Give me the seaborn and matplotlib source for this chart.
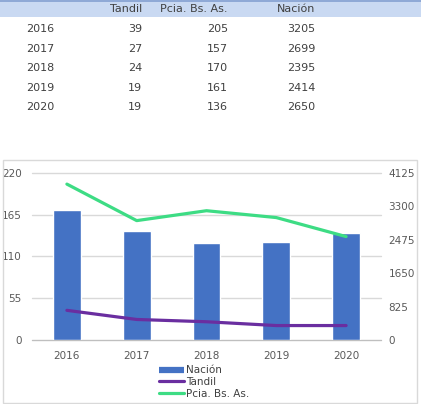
import pandas as pd
import numpy as np
import seaborn as sns
import matplotlib.pyplot as plt
from matplotlib.lines import Line2D
from matplotlib.patches import Rectangle

years = ['2016', '2017', '2018', '2019', '2020']
tandil = [39, 27, 24, 19, 19]
pcia = [205, 157, 170, 161, 136]
nacion = [3205, 2699, 2395, 2414, 2650]
left_ticks = [0, 55, 110, 165, 220]
right_ticks = [0, 825, 1650, 2475, 3300, 4125]

col_names = ['Tandil', 'Pcia. Bs. As.', 'Nación']

df = pd.DataFrame({'year': years, 'Tandil': tandil, 'Pcia. Bs. As.': pcia, 'Nación': nacion})
df_lines = df.melt(id_vars='year', value_vars=['Tandil', 'Pcia. Bs. As.'], var_name='serie', value_name='valor')

sns.set_style('white')
plt.rcParams['font.family'] = ['DejaVu Sans']

W, H = 421, 404
fig = plt.figure(figsize=(W / 100, H / 100), dpi=100)

azul = '#4472C4'
violeta = '#6a2ea0'
verde = '#3ddc84'
txt = '#404040'

# tabla de arriba
fig.patches.append(Rectangle((0, 1 - 17 / H), 1, 17 / H, transform=fig.transFigure,
                             facecolor='#c9d9f2', edgecolor='none', zorder=0))
fig.patches.append(Rectangle((0, 1 - 1.5 / H), 1, 1.5 / H, transform=fig.transFigure,
                             facecolor='#8fa9d6', edgecolor='none', zorder=0))

col_x = [142, 228, 315]
fs_tab = 8
for cx, name in zip(col_x, col_names):
    fig.text(cx / W, 1 - 9.5 / H, name, ha='right', va='center', fontsize=fs_tab, color=txt)

row_y = [29, 49, 68, 88, 107]
for i, ry in enumerate(row_y):
    fig.text(26 / W, 1 - ry / H, years[i], ha='left', va='center', fontsize=fs_tab, color=txt)
    for cx, name in zip(col_x, col_names):
        fig.text(cx / W, 1 - ry / H, str(df[name][i]), ha='right', va='center', fontsize=fs_tab, color=txt)

# marco del grafico
fig.patches.append(Rectangle((3 / W, 1 - 403 / H), 414 / W, 243 / H, transform=fig.transFigure,
                             facecolor='none', edgecolor='#d9d9d9', lw=1))

ax = fig.add_axes([32 / W, 1 - 340 / H, 349 / W, 167.3 / H])
ax2 = ax.twinx()

sns.barplot(data=df, x='year', y='Nación', color=azul, width=0.4, saturation=1, ax=ax2)
ax2.set_ylim(0, 4125)
ax2.set_yticks(right_ticks)
ax2.grid(False)
# la grilla sigue al eje izquierdo pero queda detras de las barras
for t in left_ticks:
    ax2.axhline(4125 * t / 220, color='#d9d9d9', lw=1, zorder=0.5, clip_on=False)

sns.lineplot(data=df_lines, x='year', y='valor', hue='serie',
             palette={'Tandil': violeta, 'Pcia. Bs. As.': verde}, lw=2.3, ax=ax, legend=False)
ax.set_ylim(0, 220)
ax.set_yticks(left_ticks)
ax.set_xlim(-0.5, 4.5)
ax.set_zorder(ax2.get_zorder() + 1)
ax.patch.set_visible(False)

for a in (ax, ax2):
    a.set_xlabel('')
    a.set_ylabel('')
    for s in a.spines.values():
        s.set_visible(False)
    a.tick_params(axis='y', length=0, labelsize=7.5, labelcolor='#595959', pad=7.5)
    a.tick_params(axis='x', length=0, labelsize=7.5, labelcolor='#595959', pad=8)
ax2.tick_params(axis='y', pad=5.5)
ax.spines['bottom'].set_visible(True)
ax.spines['bottom'].set_color('#bfbfbf')
ax.set_xticks(np.arange(len(years) + 1) - 0.5, minor=True)
ax.tick_params(axis='x', which='minor', length=3, color='#bfbfbf', width=0.8)

handles = [Line2D([], [], color=azul, lw=4.5, solid_capstyle='butt'),
           Line2D([], [], color=violeta, lw=2.3),
           Line2D([], [], color=verde, lw=2.3)]
fig.legend(handles, ['Nación', 'Tandil', 'Pcia. Bs. As.'], loc='center', bbox_to_anchor=(204 / W, 1 - 382 / H),
           frameon=False, fontsize=7.5, handlelength=2.4, handletextpad=0.25, labelspacing=0.15,
           labelcolor='#404040', borderpad=0)

fig.savefig('out.png', dpi=100)
